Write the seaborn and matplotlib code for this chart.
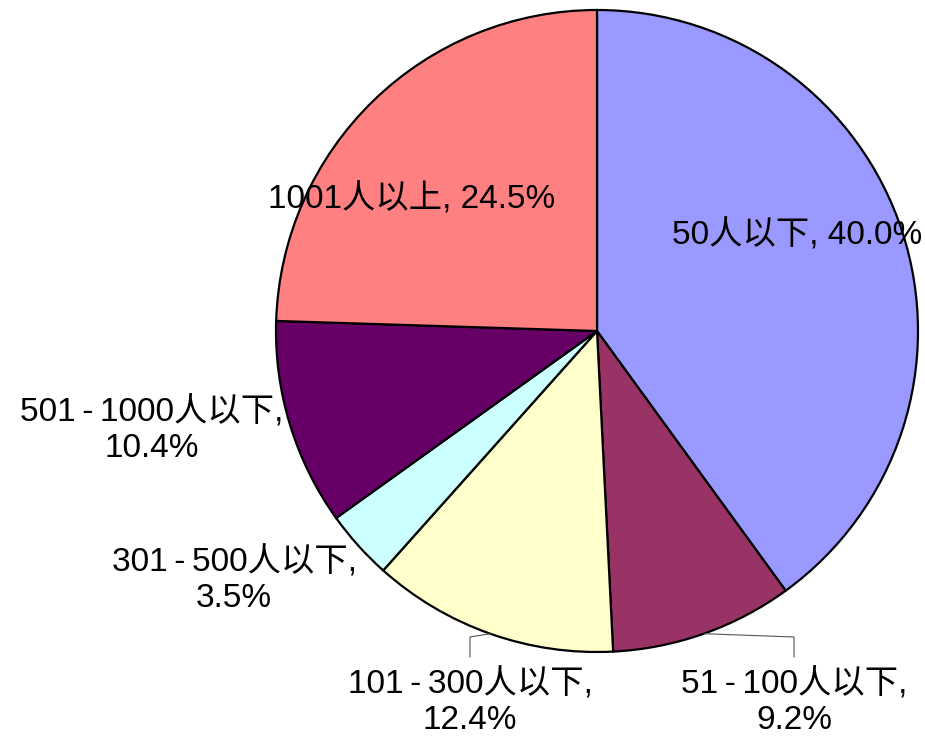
import matplotlib
matplotlib.use("Agg")
import matplotlib.pyplot as plt
import numpy as np
import seaborn as sns

# data
categories = ["50人以下", "51-100人以下", "101-300人以下", "301-500人以下",
              "501-1000人以下", "1001人以上"]
shares = [40.0, 9.2, 12.4, 3.5, 10.4, 24.5]
colors = ["#9999FF", "#993366", "#FFFFCC", "#CCFFFF", "#660066", "#FF8080"]

# label layout (pixel coords, origin bottom-left) and whether label wraps
label_xy = [(797, 505), (794, 38), (470, 38), (234, 160), (152, 310), (412, 541)]
label_wrap = [False, True, True, True, True, False]
leader = [False, True, True, False, False, False]

sns.set_theme(style="white")
plt.rcParams["font.family"] = ["Liberation Sans", "Noto Sans CJK SC", "DejaVu Sans"]

W, H = 925, 740
fig = plt.figure(figsize=(W / 100, H / 100), dpi=100)
ax = fig.add_axes([0, 0, 1, 1])

cx, cy, r = 597, 409, 321
wedges, _ = ax.pie(shares, colors=colors, startangle=90, counterclock=False,
                   center=(cx, cy), radius=r, frame=True,
                   wedgeprops=dict(edgecolor="black", linewidth=1.6))
ax.set_xlim(0, W)
ax.set_ylim(0, H)
ax.set_aspect("equal")
ax.axis("off")

for w, cat, val, (lx, ly), wrap, lead in zip(wedges, categories, shares,
                                             label_xy, label_wrap, leader):
    sep = ",\n" if wrap else ", "
    name = cat.replace("-", "\u2009-\u2009")
    txt = f"{name}{sep}{val:.1f}%"
    ax.text(lx, ly, txt, ha="center", va="center", fontsize=24,
            linespacing=1.2, color="black")
    if lead:
        ang = np.deg2rad((w.theta1 + w.theta2) / 2)
        px, py = cx + r * np.cos(ang), cy + r * np.sin(ang)
        top = ly + 45
        ax.plot([px, lx, lx], [py, top + 20, top], color="#555555", lw=0.8)

fig.savefig("out.png", dpi=100)
